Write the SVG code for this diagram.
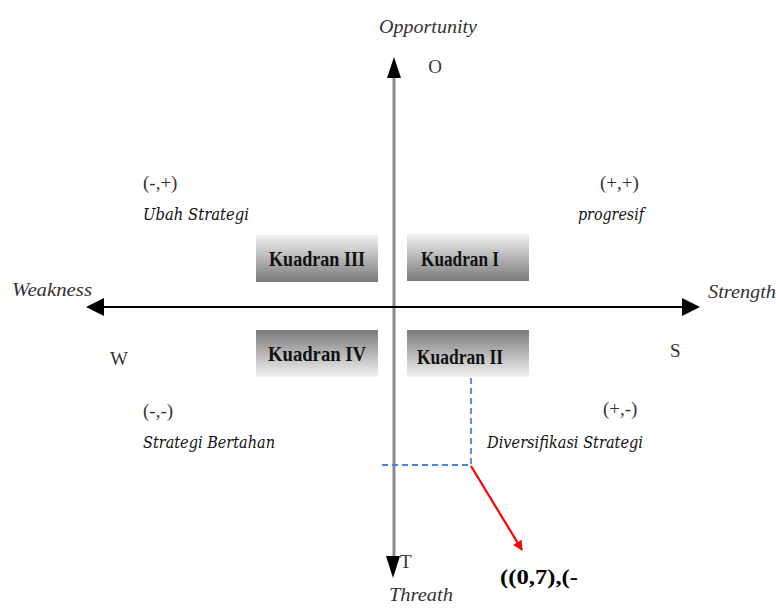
<svg xmlns="http://www.w3.org/2000/svg" width="776" height="608" viewBox="0 0 776 608">
<defs>
<linearGradient id="gUp" x1="0" y1="0" x2="0" y2="1">
<stop offset="0" stop-color="#f2f2f2"/><stop offset="1" stop-color="#7a7a7a"/>
</linearGradient>
<linearGradient id="gDown" x1="0" y1="0" x2="0" y2="1">
<stop offset="0" stop-color="#7a7a7a"/><stop offset="1" stop-color="#f2f2f2"/>
</linearGradient>
<marker id="redHead" markerWidth="10" markerHeight="10" refX="9" refY="5" orient="auto" markerUnits="userSpaceOnUse" viewBox="0 0 10 10">
<path d="M0,0 L10,5 L0,10 z" fill="#ff0000"/>
</marker>
<style>
.box text{font-family:"Liberation Serif",serif;font-weight:bold;font-size:20px;fill:#111;text-anchor:middle}
.it{font-family:"Liberation Serif",serif;font-style:italic;font-size:19px;fill:#333}
.cal{font-family:"DejaVu Serif","Liberation Serif",serif;font-style:italic;font-size:16px;fill:#111}
.sg{font-family:"Liberation Serif",serif;font-size:19px;fill:#333}
</style>
</defs>
<rect width="776" height="608" fill="#fff"/>
<g id="connectors">
<line x1="394" y1="76" x2="394" y2="560" stroke="#8a8a8a" stroke-width="3"/>
<path d="M387,78 L394,57 L401,78 z" fill="#000"/>
<path d="M386,556 L393,578 L400,556 z" fill="#000"/>
<line x1="100" y1="307" x2="686" y2="307" stroke="#000" stroke-width="2"/>
<path d="M104,298 L86,307 L104,316 z" fill="#000"/>
<path d="M682,298 L700,307 L682,316 z" fill="#000"/>
<polyline points="471,348 471,465 382,465" fill="none" stroke="#4a86d8" stroke-width="1.8" stroke-dasharray="6,4"/>
<line x1="471" y1="466" x2="522" y2="550" stroke="#ff0000" stroke-width="2.2" marker-end="url(#redHead)"/>
</g>
<g id="kuadran3" class="box"><rect x="256" y="235" width="122" height="47" fill="url(#gUp)"/><text x="317" y="266" textLength="96" lengthAdjust="spacingAndGlyphs">Kuadran III</text></g>
<g id="kuadran1" class="box"><rect x="407" y="234" width="122" height="47" fill="url(#gUp)"/><text x="460" y="266" textLength="78" lengthAdjust="spacingAndGlyphs">Kuadran I</text></g>
<g id="kuadran4" class="box"><rect x="256" y="330" width="122" height="47" fill="url(#gDown)"/><text x="317" y="361" textLength="98" lengthAdjust="spacingAndGlyphs">Kuadran IV</text></g>
<g id="kuadran2" class="box"><rect x="407" y="330" width="122" height="47" fill="url(#gDown)"/><text x="460" y="364" textLength="86" lengthAdjust="spacingAndGlyphs">Kuadran II</text></g>
<g id="labels">
<text class="it" x="428" y="33" text-anchor="middle" textLength="98" lengthAdjust="spacingAndGlyphs">Opportunity</text>
<text class="sg" x="435" y="73" text-anchor="middle">O</text>
<text class="it" x="12" y="296" textLength="80" lengthAdjust="spacingAndGlyphs">Weakness</text>
<text class="it" x="708" y="298" textLength="68" lengthAdjust="spacingAndGlyphs">Strength</text>
<text class="sg" x="110" y="365">W</text>
<text class="sg" x="670" y="357">S</text>
<text class="sg" x="143" y="189">(-,+)</text>
<text class="cal" x="143" y="220" textLength="106" lengthAdjust="spacingAndGlyphs">Ubah Strategi</text>
<text class="sg" x="600" y="189">(+,+)</text>
<text class="cal" x="578" y="220" textLength="66" lengthAdjust="spacingAndGlyphs">progresif</text>
<text class="sg" x="143" y="417">(-,-)</text>
<text class="cal" x="143" y="448" textLength="132" lengthAdjust="spacingAndGlyphs">Strategi Bertahan</text>
<text class="sg" x="603" y="415">(+,-)</text>
<text class="cal" x="487" y="448" textLength="156" lengthAdjust="spacingAndGlyphs">Diversifikasi Strategi</text>
<text class="sg" x="400" y="568">T</text>
<text class="it" x="389" y="601" textLength="64" lengthAdjust="spacingAndGlyphs">Threath</text>
<text x="500" y="584" font-family="Liberation Serif,serif" font-weight="bold" font-size="20" fill="#000" textLength="78" lengthAdjust="spacingAndGlyphs">((0,7),(-</text>
</g>
</svg>
